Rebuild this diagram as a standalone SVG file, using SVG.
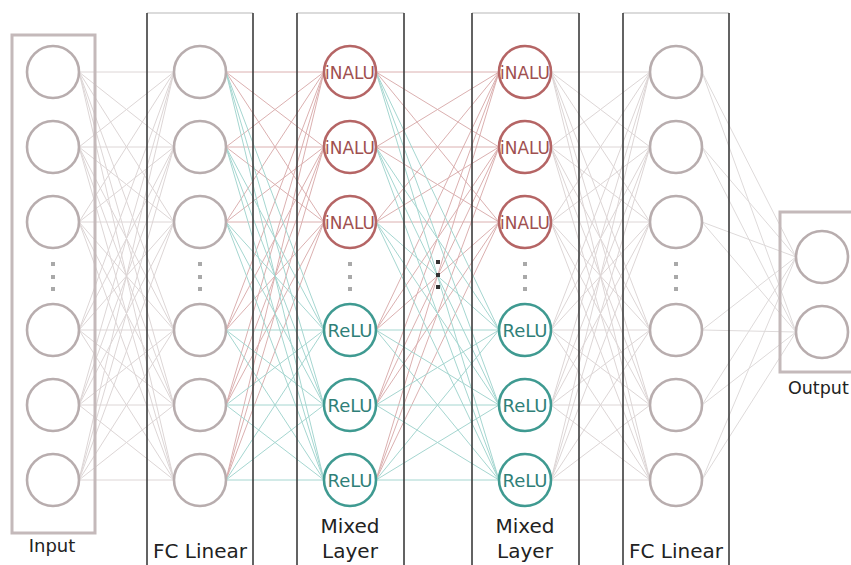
<svg xmlns="http://www.w3.org/2000/svg" width="851" height="565" viewBox="0 0 851 565">
  <style>
    .bg { fill: #ffffff; }
    .frame { fill: none; stroke: #c4b9ba; stroke-width: 3; }
    .side { stroke: #3c3c3c; stroke-width: 1.6; }
    .top { stroke: #cfcfcf; stroke-width: 1.5; }
    .plain { fill: #ffffff; stroke: #b8adae; stroke-width: 2.6; }
    .inalu { fill: #ffffff; stroke: #b56565; stroke-width: 2.6; }
    .relu { fill: #ffffff; stroke: #3f9a91; stroke-width: 2.6; }
    .w-gray { fill: none; stroke: #ddd6d6; stroke-width: 1; }
    .w-red { fill: none; stroke: #dbb0b0; stroke-width: 1; }
    .w-teal { fill: none; stroke: #a5d6d0; stroke-width: 1; }
    .w-out { fill: none; stroke: #dedada; stroke-width: 1; }
    .lbl { font-family: "DejaVu Sans", sans-serif; fill: #222222; text-anchor: middle; }
    .tin { font-family: "DejaVu Sans", sans-serif; font-size: 18px; fill: #a05050; text-anchor: middle; }
    .tre { font-family: "DejaVu Sans", sans-serif; font-size: 18px; fill: #2f7f78; text-anchor: middle; }
    .dot { fill: #a9a9a9; }
    .dark { fill: #333333; }
  </style>
  <defs>
    <g id="vdots">
      <rect x="-2" y="262" width="4" height="4"/>
      <rect x="-2" y="275" width="4" height="4"/>
      <rect x="-2" y="287" width="4" height="4"/>
    </g>
  </defs>
  <rect class="bg" width="851" height="565"/>

  <!-- weights between layers -->
  <g id="connectors">
    <!-- input -> first fully connected layer -->
    <path class="w-gray" d="M79 72L174 72M79 147L174 72M79 222L174 72M79 330L174 72M79 405L174 72M79 480L174 72
      M79 72L174 147M79 147L174 147M79 222L174 147M79 330L174 147M79 405L174 147M79 480L174 147
      M79 72L174 222M79 147L174 222M79 222L174 222M79 330L174 222M79 405L174 222M79 480L174 222
      M79 72L174 330M79 147L174 330M79 222L174 330M79 330L174 330M79 405L174 330M79 480L174 330
      M79 72L174 405M79 147L174 405M79 222L174 405M79 330L174 405M79 405L174 405M79 480L174 405
      M79 72L174 480M79 147L174 480M79 222L174 480M79 330L174 480M79 405L174 480M79 480L174 480"/>
    <!-- first FC -> mixed layer 1 (iNALU targets) -->
    <path class="w-red" d="M226 72L324 72M226 147L324 72M226 222L324 72M226 330L324 72M226 405L324 72M226 480L324 72
      M226 72L324 147M226 147L324 147M226 222L324 147M226 330L324 147M226 405L324 147M226 480L324 147
      M226 72L324 222M226 147L324 222M226 222L324 222M226 330L324 222M226 405L324 222M226 480L324 222"/>
    <!-- first FC -> mixed layer 1 (ReLU targets) -->
    <path class="w-teal" d="M226 72L324 330M226 147L324 330M226 222L324 330M226 330L324 330M226 405L324 330M226 480L324 330
      M226 72L324 405M226 147L324 405M226 222L324 405M226 330L324 405M226 405L324 405M226 480L324 405
      M226 72L324 480M226 147L324 480M226 222L324 480M226 330L324 480M226 405L324 480M226 480L324 480"/>
    <!-- mixed layer 1 -> mixed layer 2 (iNALU targets) -->
    <path class="w-red" d="M376 72L499 72M376 147L499 72M376 222L499 72M376 330L499 72M376 405L499 72M376 480L499 72
      M376 72L499 147M376 147L499 147M376 222L499 147M376 330L499 147M376 405L499 147M376 480L499 147
      M376 72L499 222M376 147L499 222M376 222L499 222M376 330L499 222M376 405L499 222M376 480L499 222"/>
    <!-- mixed layer 1 -> mixed layer 2 (ReLU targets) -->
    <path class="w-teal" d="M376 72L499 330M376 147L499 330M376 222L499 330M376 330L499 330M376 405L499 330M376 480L499 330
      M376 72L499 405M376 147L499 405M376 222L499 405M376 330L499 405M376 405L499 405M376 480L499 405
      M376 72L499 480M376 147L499 480M376 222L499 480M376 330L499 480M376 405L499 480M376 480L499 480"/>
    <!-- mixed layer 2 -> second FC -->
    <path class="w-gray" d="M551 72L650 72M551 147L650 72M551 222L650 72M551 330L650 72M551 405L650 72M551 480L650 72
      M551 72L650 147M551 147L650 147M551 222L650 147M551 330L650 147M551 405L650 147M551 480L650 147
      M551 72L650 222M551 147L650 222M551 222L650 222M551 330L650 222M551 405L650 222M551 480L650 222
      M551 72L650 330M551 147L650 330M551 222L650 330M551 330L650 330M551 405L650 330M551 480L650 330
      M551 72L650 405M551 147L650 405M551 222L650 405M551 330L650 405M551 405L650 405M551 480L650 405
      M551 72L650 480M551 147L650 480M551 222L650 480M551 330L650 480M551 405L650 480M551 480L650 480"/>
    <!-- second FC -> output -->
    <path class="w-out" d="M702 72L796 257M702 147L796 257M702 222L796 257M702 330L796 257M702 405L796 257M702 480L796 257
      M702 72L796 332M702 147L796 332M702 222L796 332M702 330L796 332M702 405L796 332M702 480L796 332"/>
  </g>

  <!-- layer frames -->
  <g id="frame-input"><rect class="frame" x="12" y="35" width="83" height="498"/></g>
  <g id="frame-fc1">
    <line class="top" x1="147" y1="13" x2="253" y2="13"/>
    <line class="side" x1="147" y1="13" x2="147" y2="565"/>
    <line class="side" x1="253" y1="13" x2="253" y2="565"/>
  </g>
  <g id="frame-mixed1">
    <line class="top" x1="297" y1="13" x2="404" y2="13"/>
    <line class="side" x1="297" y1="13" x2="297" y2="565"/>
    <line class="side" x1="404" y1="13" x2="404" y2="565"/>
  </g>
  <g id="frame-mixed2">
    <line class="top" x1="472" y1="13" x2="579" y2="13"/>
    <line class="side" x1="472" y1="13" x2="472" y2="565"/>
    <line class="side" x1="579" y1="13" x2="579" y2="565"/>
  </g>
  <g id="frame-fc2">
    <line class="top" x1="623" y1="13" x2="729" y2="13"/>
    <line class="side" x1="623" y1="13" x2="623" y2="565"/>
    <line class="side" x1="729" y1="13" x2="729" y2="565"/>
  </g>
  <g id="frame-output"><rect class="frame" x="780" y="212" width="80" height="160"/></g>

  <!-- input layer -->
  <g id="input-nodes">
    <circle class="plain" cx="53" cy="72" r="26"/>
    <circle class="plain" cx="53" cy="147" r="26"/>
    <circle class="plain" cx="53" cy="222" r="26"/>
    <use href="#vdots" class="dot" x="53"/>
    <circle class="plain" cx="53" cy="330" r="26"/>
    <circle class="plain" cx="53" cy="405" r="26"/>
    <circle class="plain" cx="53" cy="480" r="26"/>
  </g>

  <!-- first fully connected layer -->
  <g id="fc1-nodes">
    <circle class="plain" cx="200" cy="72" r="26"/>
    <circle class="plain" cx="200" cy="147" r="26"/>
    <circle class="plain" cx="200" cy="222" r="26"/>
    <use href="#vdots" class="dot" x="200"/>
    <circle class="plain" cx="200" cy="330" r="26"/>
    <circle class="plain" cx="200" cy="405" r="26"/>
    <circle class="plain" cx="200" cy="480" r="26"/>
  </g>

  <!-- mixed layer 1 -->
  <g id="mixed1-nodes">
    <circle class="inalu" cx="350" cy="72" r="26"/>
    <text class="tin" x="350" y="78.5" textLength="50" lengthAdjust="spacingAndGlyphs">iNALU</text>
    <circle class="inalu" cx="350" cy="147" r="26"/>
    <text class="tin" x="350" y="153.5" textLength="50" lengthAdjust="spacingAndGlyphs">iNALU</text>
    <circle class="inalu" cx="350" cy="222" r="26"/>
    <text class="tin" x="350" y="228.5" textLength="50" lengthAdjust="spacingAndGlyphs">iNALU</text>
    <use href="#vdots" class="dot" x="350"/>
    <circle class="relu" cx="350" cy="330" r="26"/>
    <text class="tre" x="350" y="336.5">ReLU</text>
    <circle class="relu" cx="350" cy="405" r="26"/>
    <text class="tre" x="350" y="411.5">ReLU</text>
    <circle class="relu" cx="350" cy="480" r="26"/>
    <text class="tre" x="350" y="486.5">ReLU</text>
  </g>

  <!-- ellipsis between the mixed layers -->
  <g id="gap-dots"><use href="#vdots" class="dark" x="438" y="-2"/></g>

  <!-- mixed layer 2 -->
  <g id="mixed2-nodes">
    <circle class="inalu" cx="525" cy="72" r="26"/>
    <text class="tin" x="525" y="78.5" textLength="50" lengthAdjust="spacingAndGlyphs">iNALU</text>
    <circle class="inalu" cx="525" cy="147" r="26"/>
    <text class="tin" x="525" y="153.5" textLength="50" lengthAdjust="spacingAndGlyphs">iNALU</text>
    <circle class="inalu" cx="525" cy="222" r="26"/>
    <text class="tin" x="525" y="228.5" textLength="50" lengthAdjust="spacingAndGlyphs">iNALU</text>
    <use href="#vdots" class="dot" x="525"/>
    <circle class="relu" cx="525" cy="330" r="26"/>
    <text class="tre" x="525" y="336.5">ReLU</text>
    <circle class="relu" cx="525" cy="405" r="26"/>
    <text class="tre" x="525" y="411.5">ReLU</text>
    <circle class="relu" cx="525" cy="480" r="26"/>
    <text class="tre" x="525" y="486.5">ReLU</text>
  </g>

  <!-- second fully connected layer -->
  <g id="fc2-nodes">
    <circle class="plain" cx="676" cy="72" r="26"/>
    <circle class="plain" cx="676" cy="147" r="26"/>
    <circle class="plain" cx="676" cy="222" r="26"/>
    <use href="#vdots" class="dot" x="676"/>
    <circle class="plain" cx="676" cy="330" r="26"/>
    <circle class="plain" cx="676" cy="405" r="26"/>
    <circle class="plain" cx="676" cy="480" r="26"/>
  </g>

  <!-- output layer -->
  <g id="output-nodes">
    <circle class="plain" cx="822" cy="257" r="26"/>
    <circle class="plain" cx="822" cy="332" r="26"/>
  </g>

  <!-- layer captions -->
  <g id="labels">
    <text class="lbl" x="52" y="552" font-size="18">Input</text>
    <text class="lbl" x="200" y="558" font-size="20">FC Linear</text>
    <text class="lbl" x="350" y="533" font-size="20">Mixed</text>
    <text class="lbl" x="350" y="558" font-size="20">Layer</text>
    <text class="lbl" x="525" y="533" font-size="20">Mixed</text>
    <text class="lbl" x="525" y="558" font-size="20">Layer</text>
    <text class="lbl" x="676" y="558" font-size="20">FC Linear</text>
    <text class="lbl" x="788" y="394" font-size="17.5" style="text-anchor:start">Output</text>
  </g>
</svg>
